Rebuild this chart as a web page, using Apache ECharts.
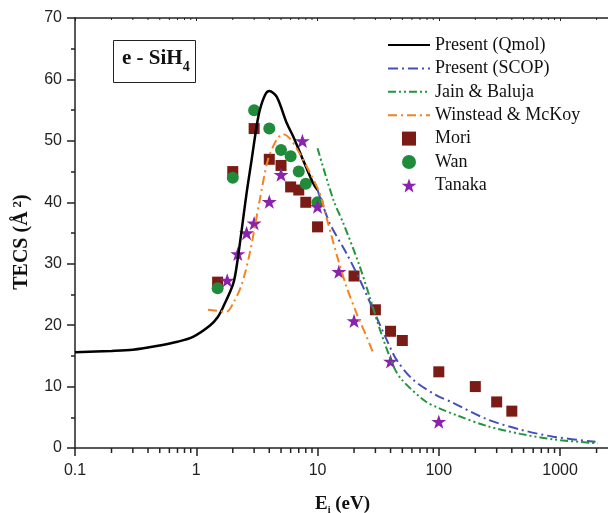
<!DOCTYPE html>
<html>
<head>
<meta charset="utf-8">
<script src="https://cdn.jsdelivr.net/npm/echarts@6/dist/echarts.min.js"></script>
<style>
  html, body { margin: 0; padding: 0; background: #fff; }
  #chart { width: 608px; height: 513px; }
</style>
</head>
<body>
<div id="chart"></div>
<script>
// Present (Qmol)
var qmolE = [0.1, 0.2, 0.3, 0.5, 0.7, 0.94, 1.29, 1.5, 1.67, 2.02, 2.19, 2.6, 2.86, 3.14, 3.34, 3.7, 4.0, 4.6, 5.57, 6.3, 7.6, 9.2, 10];
var qmolV = [15.6, 15.8, 16.0, 16.7, 17.3, 18.1, 19.9, 21.3, 23.0, 26.8, 30.6, 41.5, 46.9, 52.3, 55, 57.5, 58.1, 57.2, 52.9, 50.7, 46.9, 43.1, 42.0];
// Present (SCOP)
var scopE = [10, 12.6, 17.3, 22.3, 28.8, 37.2, 45, 61.5, 95, 130, 248, 470, 880, 1960];
var scopV = [42, 36.6, 31.7, 27.4, 22.5, 17.6, 14.3, 11.1, 8.6, 7.4, 4.7, 3.0, 1.84, 1.0];
// Jain & Baluja
var jainE = [10, 13.5, 16.3, 21.8, 26.9, 32.8, 42.5, 49.6, 77, 100, 146, 248, 470, 880, 2040];
var jainV = [48.8, 40.4, 36.6, 30.1, 24.6, 19.2, 13.2, 11.1, 7.65, 6.5, 5.2, 3.6, 2.3, 1.4, 0.76];
// Winstead & McKoy
var winE = [1.25, 1.78, 2.02, 2.36, 2.76, 3.34, 3.9, 4.6, 5.2, 5.9, 7.1, 8.7, 10.4, 12.2, 14.8, 17.3, 21, 25.4, 28.8];
var winV = [22.5, 22.2, 23.6, 26.5, 31.7, 40.4, 46.9, 50.2, 51.1, 50.4, 48, 44.7, 41.5, 36.6, 30.6, 26.3, 21.9, 18.1, 15.4];
// Mori
var moriE = [1.5, 2, 3, 4, 5, 6, 7, 8, 10, 20, 30, 40, 50, 100, 200, 300, 400];
var moriV = [27, 45, 52, 47, 46, 42.5, 42, 40, 36, 28, 22.5, 19, 17.5, 12.4, 10, 7.5, 6];
// Wan
var wanE = [1.5, 2, 3, 4, 5, 6, 7, 8, 10];
var wanV = [26, 44, 55, 52, 48.5, 47.5, 45, 43, 40];
// Tanaka
var tanE = [1.8, 2.2, 2.6, 3, 4, 5, 7.5, 10, 15, 20, 40, 100];
var tanV = [27.3, 31.6, 35, 36.6, 40.1, 44.5, 50, 39.3, 28.7, 20.7, 14.1, 4.3];

// log axis minor tick values
var minorTicks = [0.2, 0.3, 0.4, 0.5, 0.6, 0.7, 0.8, 0.9,
  2, 3, 4, 5, 6, 7, 8, 9, 20, 30, 40, 50, 60, 70, 80, 90,
  200, 300, 400, 500, 600, 700, 800, 900, 2000];

var names = ['Present (Qmol)', 'Present (SCOP)', 'Jain & Baluja', 'Winstead & McKoy', 'Mori', 'Wan', 'Tanaka'];

function pairs(xs, ys) {
  return xs.map(function (x, i) { return [x, ys[i]]; });
}

var serif = 'Liberation Serif';
var sans = 'Liberation Sans';
var squarePath = 'path://M0,0 L10,0 L10,10 L0,10 Z';
var starPath = 'path://M50,0 L61.8,35.1 L98.1,35.1 L68.8,56.8 L79.4,91.5 L50,70.2 L20.6,91.5 L31.2,56.8 L1.9,35.1 L38.2,35.1 Z';

var chart = echarts.init(document.getElementById('chart'));
chart.setOption({
  animation: false,
  title: {
    text: '{a|e - SiH}{b|4}',
    left: 113,
    top: 36,
    padding: [8, 6, 9, 9],
    borderColor: '#222',
    borderWidth: 1,
    textStyle: {
      rich: {
        a: { fontFamily: serif, fontWeight: 'bold', fontSize: 21, color: '#111', lineHeight: 30, verticalAlign: 'middle' },
        b: { fontFamily: serif, fontWeight: 'bold', fontSize: 14, color: '#111', lineHeight: 14, verticalAlign: 'bottom' }
      }
    }
  },
  legend: {
    orient: 'vertical',
    left: 382,
    top: 31,
    itemWidth: 42,
    itemHeight: 14,
    itemGap: 5.4,
    data: names,
    textStyle: { fontFamily: serif, fontSize: 18, color: '#111', lineHeight: 18 }
  },
  grid: { left: 75, right: -2, top: 18, bottom: 65, outerBoundsMode: 'none', containLabel: false },
  xAxis: [{
    type: 'log',
    min: 0.1,
    max: 2580,
    logBase: 10,
    name: '{a|E}{s|i}{a| (eV)}',
    nameLocation: 'middle',
    nameGap: 45,
    nameTextStyle: {
      rich: {
        a: { fontFamily: serif, fontWeight: 'bold', fontSize: 19, color: '#111', lineHeight: 22, verticalAlign: 'middle' },
        s: { fontFamily: serif, fontWeight: 'bold', fontSize: 10, color: '#111', lineHeight: 10, verticalAlign: 'bottom' }
      }
    },
    axisLine: { lineStyle: { color: '#222', width: 1.5 } },
    axisTick: { length: 8, lineStyle: { color: '#222', width: 1.5 } },
    axisLabel: {
      fontFamily: sans, fontSize: 16, color: '#222', margin: 15, showMaxLabel: false,
      formatter: function (v) { return String(+v.toPrecision(3)); }
    },
    splitLine: { show: false }
  }, {
    type: 'log',
    position: 'top',
    min: 0.1,
    max: 2580,
    logBase: 10,
    axisLine: { lineStyle: { color: '#222', width: 1.5 } },
    axisTick: { inside: true, length: 3, lineStyle: { color: '#222' } },
    axisLabel: { show: false },
    splitLine: { show: false }
  }],
  yAxis: {
    type: 'value',
    min: 0,
    max: 70,
    interval: 10,
    name: '{a|TECS (Å}{s|2}{a|)}',
    nameLocation: 'middle',
    nameRotate: 90,
    nameGap: 42,
    nameTextStyle: {
      padding: [0, 18, 0, 0],
      rich: {
        a: { fontFamily: serif, fontWeight: 'bold', fontSize: 20, color: '#111', lineHeight: 22, verticalAlign: 'middle' },
        s: { fontFamily: serif, fontWeight: 'bold', fontSize: 13, color: '#111', lineHeight: 22, verticalAlign: 'top', padding: [0, 0, 0, 4] }
      }
    },
    axisLine: { show: true, lineStyle: { color: '#222', width: 1.5 } },
    axisTick: { show: true, length: 8, lineStyle: { color: '#222', width: 1.5 } },
    minorTick: { show: true, splitNumber: 2, length: 4, lineStyle: { color: '#222', width: 1.5 } },
    axisLabel: { fontFamily: sans, fontSize: 16, color: '#222', margin: 13 },
    splitLine: { show: false }
  },
  series: [{
    name: 'minor',
    type: 'custom',
    silent: true,
    data: minorTicks.map(function (v) { return [v, 0]; }),
    renderItem: function (params, api) {
      var b = api.coord([api.value(0), 0]);
      var t = api.coord([api.value(0), 70]);
      return {
        type: 'group',
        children: [
          { type: 'line', shape: { x1: b[0], y1: b[1], x2: b[0], y2: b[1] + 5 }, style: { stroke: '#222', lineWidth: 1.5 } },
          { type: 'line', shape: { x1: t[0], y1: t[1], x2: t[0], y2: t[1] + 2 }, style: { stroke: '#222', lineWidth: 1 } }
        ]
      };
    }
  }, {
    name: 'Present (Qmol)',
    type: 'line',
    symbol: 'none',
    smooth: 0.3,
    data: pairs(qmolE, qmolV),
    lineStyle: { color: '#000', width: 2.5 },
    itemStyle: { color: '#000', opacity: 0 }
  }, {
    name: 'Present (SCOP)',
    type: 'line',
    symbol: 'none',
    smooth: 0.3,
    data: pairs(scopE, scopV),
    lineStyle: { color: '#4450b8', width: 2, type: [10, 4, 2, 4] },
    itemStyle: { color: '#4450b8', opacity: 0 }
  }, {
    name: 'Jain & Baluja',
    type: 'line',
    symbol: 'none',
    smooth: 0.3,
    data: pairs(jainE, jainV),
    lineStyle: { color: '#22963a', width: 2, type: [8, 3, 2, 3, 2, 3] },
    itemStyle: { color: '#22963a', opacity: 0 }
  }, {
    name: 'Winstead & McKoy',
    type: 'line',
    symbol: 'none',
    smooth: 0.3,
    data: pairs(winE, winV),
    lineStyle: { color: '#f5821f', width: 2, type: [9, 4, 2, 4] },
    itemStyle: { color: '#f5821f', opacity: 0 }
  }, {
    name: 'Mori',
    type: 'scatter',
    symbol: squarePath,
    symbolKeepAspect: true,
    symbolSize: 11,
    data: pairs(moriE, moriV),
    itemStyle: { color: '#7b1b15', opacity: 1 }
  }, {
    name: 'Wan',
    type: 'scatter',
    symbol: 'circle',
    symbolSize: 12,
    data: pairs(wanE, wanV),
    itemStyle: { color: '#1f8b3b', opacity: 1 }
  }, {
    name: 'Tanaka',
    type: 'scatter',
    symbol: starPath,
    symbolKeepAspect: true,
    symbolSize: 15,
    data: pairs(tanE, tanV),
    itemStyle: { color: '#8a22ad', opacity: 1 }
  }]
});
</script>
</body>
</html>
